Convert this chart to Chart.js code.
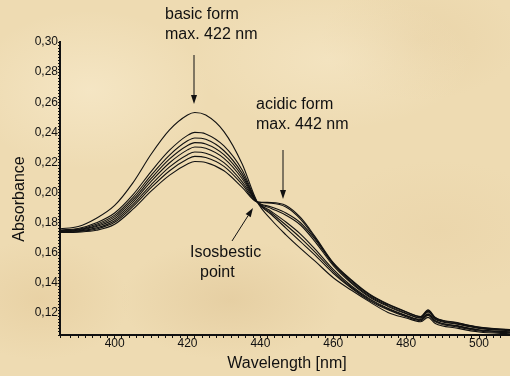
<!DOCTYPE html>
<html>
<head>
<meta charset="utf-8">
<script src="https://cdn.jsdelivr.net/npm/chart.js@4/dist/chart.umd.min.js"></script>
<style>
  html, body { margin: 0; padding: 0; }
  body {
    width: 510px; height: 376px; overflow: hidden;
    background-color: #eedbb2;
    background-image:
      radial-gradient(ellipse 120px 80px at 90px 90px, rgba(250,238,210,0.55), rgba(250,238,210,0) 100%),
      radial-gradient(ellipse 140px 70px at 330px 60px, rgba(248,235,205,0.5), rgba(248,235,205,0) 100%),
      radial-gradient(ellipse 110px 60px at 230px 300px, rgba(215,185,135,0.35), rgba(215,185,135,0) 100%),
      radial-gradient(ellipse 90px 60px at 40px 300px, rgba(222,192,140,0.35), rgba(222,192,140,0) 100%),
      radial-gradient(ellipse 120px 70px at 440px 230px, rgba(230,205,160,0.35), rgba(230,205,160,0) 100%),
      radial-gradient(ellipse 100px 60px at 420px 40px, rgba(225,198,150,0.3), rgba(225,198,150,0) 100%);
  }
  canvas { display: block; }
</style>
</head>
<body>
<canvas id="c" width="510" height="376"></canvas>
<script>
// ---- data ----
const wavelengths = [385, 390, 395, 400, 405, 410, 415, 420, 422, 425, 430, 435, 439,
                     443, 447, 451, 455, 460, 465, 470, 475, 480, 484, 486, 488, 494, 500, 509];

const spectrum1 = [0.1760, 0.1775, 0.1830, 0.1915, 0.2065, 0.2255, 0.2415, 0.2515, 0.2532, 0.2515, 0.2405, 0.2190, 0.1945,
                   0.1820, 0.1720, 0.1630, 0.1545, 0.1435, 0.1352, 0.1275, 0.1205, 0.1168, 0.1143, 0.1172, 0.1132, 0.1100, 0.1075, 0.1063];
const spectrum2 = [0.1752, 0.1762, 0.1800, 0.1865, 0.1985, 0.2140, 0.2280, 0.2380, 0.2400, 0.2390, 0.2310, 0.2150, 0.1942,
                   0.1855, 0.1765, 0.1675, 0.1585, 0.1465, 0.1365, 0.1283, 0.1222, 0.1176, 0.1150, 0.1185, 0.1142, 0.1108, 0.1082, 0.1069];
const spectrum3 = [0.1749, 0.1757, 0.1790, 0.1851, 0.1967, 0.2115, 0.2248, 0.2344, 0.2363, 0.2354, 0.2278, 0.2128, 0.1941,
                   0.1865, 0.1785, 0.1700, 0.1605, 0.1478, 0.1372, 0.1290, 0.1228, 0.1182, 0.1155, 0.1192, 0.1147, 0.1114, 0.1087, 0.1073];
const spectrum4 = [0.1746, 0.1754, 0.1782, 0.1839, 0.1952, 0.2094, 0.2222, 0.2313, 0.2332, 0.2323, 0.2252, 0.2110, 0.1941,
                   0.1875, 0.1805, 0.1725, 0.1625, 0.1490, 0.1380, 0.1295, 0.1232, 0.1185, 0.1158, 0.1195, 0.1150, 0.1117, 0.1090, 0.1075];
const spectrum5 = [0.1743, 0.1750, 0.1775, 0.1827, 0.1937, 0.2075, 0.2197, 0.2284, 0.2303, 0.2294, 0.2227, 0.2092, 0.1940,
                   0.1895, 0.1850, 0.1785, 0.1675, 0.1515, 0.1398, 0.1306, 0.1245, 0.1196, 0.1166, 0.1208, 0.1160, 0.1127, 0.1099, 0.1082];
const spectrum6 = [0.1741, 0.1746, 0.1766, 0.1814, 0.1921, 0.2052, 0.2169, 0.2252, 0.2270, 0.2262, 0.2199, 0.2072, 0.1940,
                   0.1905, 0.1865, 0.1800, 0.1690, 0.1525, 0.1405, 0.1312, 0.1250, 0.1200, 0.1170, 0.1212, 0.1164, 0.1130, 0.1102, 0.1085];
const spectrum7 = [0.1738, 0.1742, 0.1759, 0.1803, 0.1907, 0.2033, 0.2144, 0.2223, 0.2241, 0.2233, 0.2174, 0.2055, 0.1940,
                   0.1930, 0.1905, 0.1825, 0.1700, 0.1530, 0.1415, 0.1320, 0.1257, 0.1207, 0.1175, 0.1218, 0.1169, 0.1135, 0.1106, 0.1088];
const spectrum8 = [0.1735, 0.1738, 0.1750, 0.1790, 0.1890, 0.2010, 0.2115, 0.2190, 0.2207, 0.2200, 0.2145, 0.2035, 0.1940,
                   0.1935, 0.1915, 0.1835, 0.1708, 0.1535, 0.1420, 0.1325, 0.1260, 0.1210, 0.1178, 0.1222, 0.1172, 0.1138, 0.1108, 0.1090];

const allSpectra = [spectrum1, spectrum2, spectrum3, spectrum4, spectrum5, spectrum6, spectrum7, spectrum8];

const xMajorTicks = [400, 420, 440, 460, 480, 500];
const yMajorTicks = [0.12, 0.14, 0.16, 0.18, 0.20, 0.22, 0.24, 0.26, 0.28, 0.30];

const xTitle = 'Wavelength [nm]';
const yTitle = 'Absorbance';

// annotations (text + arrows), in pixels
const annotationTexts = [
  { text: 'basic form',  x: 165, y: 19 },
  { text: 'max. 422 nm', x: 165, y: 39 },
  { text: 'acidic form', x: 256, y: 109 },
  { text: 'max. 442 nm', x: 256, y: 129 },
  { text: 'Isosbestic',  x: 190, y: 257 },
  { text: 'point',       x: 200, y: 277 }
];
const annotationArrows = [
  { x1: 194, y1: 55,  x2: 194, y2: 104 },
  { x1: 283, y1: 150, x2: 283, y2: 199 },
  { x1: 232, y1: 241, x2: 253, y2: 208 }
];

const FONT = "Arial, 'Liberation Sans', sans-serif";
const INK = '#111';

const datasets = allSpectra.map((s, k) => ({
  label: 'spectrum ' + (k + 1),
  data: wavelengths.map((w, i) => ({ x: w, y: s[i] })),
  borderColor: INK,
  borderWidth: 1.1,
  pointRadius: 0,
  fill: false,
  cubicInterpolationMode: 'monotone'
}));

const annotPlugin = {
  id: 'annot',
  afterDraw(chart) {
    const ctx = chart.ctx;
    ctx.save();
    ctx.fillStyle = INK;
    ctx.strokeStyle = INK;
    ctx.font = '16px ' + FONT;
    ctx.textAlign = 'left';
    ctx.textBaseline = 'alphabetic';
    annotationTexts.forEach(t => ctx.fillText(t.text, t.x, t.y));
    annotationArrows.forEach(a => {
      const ang = Math.atan2(a.y2 - a.y1, a.x2 - a.x1);
      const L = 9, W = 3;
      const bx = a.x2 - L * Math.cos(ang), by = a.y2 - L * Math.sin(ang);
      ctx.lineWidth = 1;
      ctx.beginPath();
      ctx.moveTo(a.x1, a.y1);
      ctx.lineTo(bx, by);
      ctx.stroke();
      ctx.beginPath();
      ctx.moveTo(a.x2, a.y2);
      ctx.lineTo(bx + W * Math.sin(ang), by - W * Math.cos(ang));
      ctx.lineTo(bx - W * Math.sin(ang), by + W * Math.cos(ang));
      ctx.closePath();
      ctx.fill();
    });
    // axis titles
    ctx.textAlign = 'center';
    ctx.fillText(xTitle, 287, 368);
    ctx.save();
    ctx.translate(24, 199);
    ctx.rotate(-Math.PI / 2);
    ctx.fillText(yTitle, 0, 0);
    ctx.restore();
    ctx.restore();
  }
};

const isMajor = (v, list) => list.some(m => Math.abs(m - v) < 1e-6);

new Chart(document.getElementById('c'), {
  type: 'line',
  data: { datasets },
  options: {
    responsive: false,
    animation: false,
    devicePixelRatio: 1,
    layout: { padding: { top: 42, left: 0, right: 0, bottom: 0 } },
    plugins: { legend: { display: false }, tooltip: { enabled: false } },
    scales: {
      x: {
        type: 'linear',
        min: 385, max: 508.5,
        afterFit(s) { s.height = 41; },
        border: { display: true, color: INK, width: 2 },
        grid: { drawOnChartArea: false, drawTicks: true, tickLength: 3, color: INK, lineWidth: 1 },
        ticks: {
          stepSize: 2, autoSkip: false, maxRotation: 0, padding: -2,
          color: INK, font: { family: FONT, size: 12 },
          callback: v => isMajor(v, xMajorTicks) ? String(v) : ''
        }
      },
      y: {
        type: 'linear',
        min: 0.1055, max: 0.30,
        afterFit(s) { s.width = 60; },
        border: { display: true, color: INK, width: 2 },
        grid: { drawOnChartArea: false, drawTicks: true, tickLength: 2, color: INK, lineWidth: 1 },
        ticks: {
          stepSize: 0.002, autoSkip: false, padding: 0,
          color: INK, font: { family: FONT, size: 12 },
          callback: v => isMajor(v, yMajorTicks) ? v.toFixed(2).replace('.', ',') : ''
        }
      }
    }
  },
  plugins: [annotPlugin]
});
</script>
</body>
</html>
